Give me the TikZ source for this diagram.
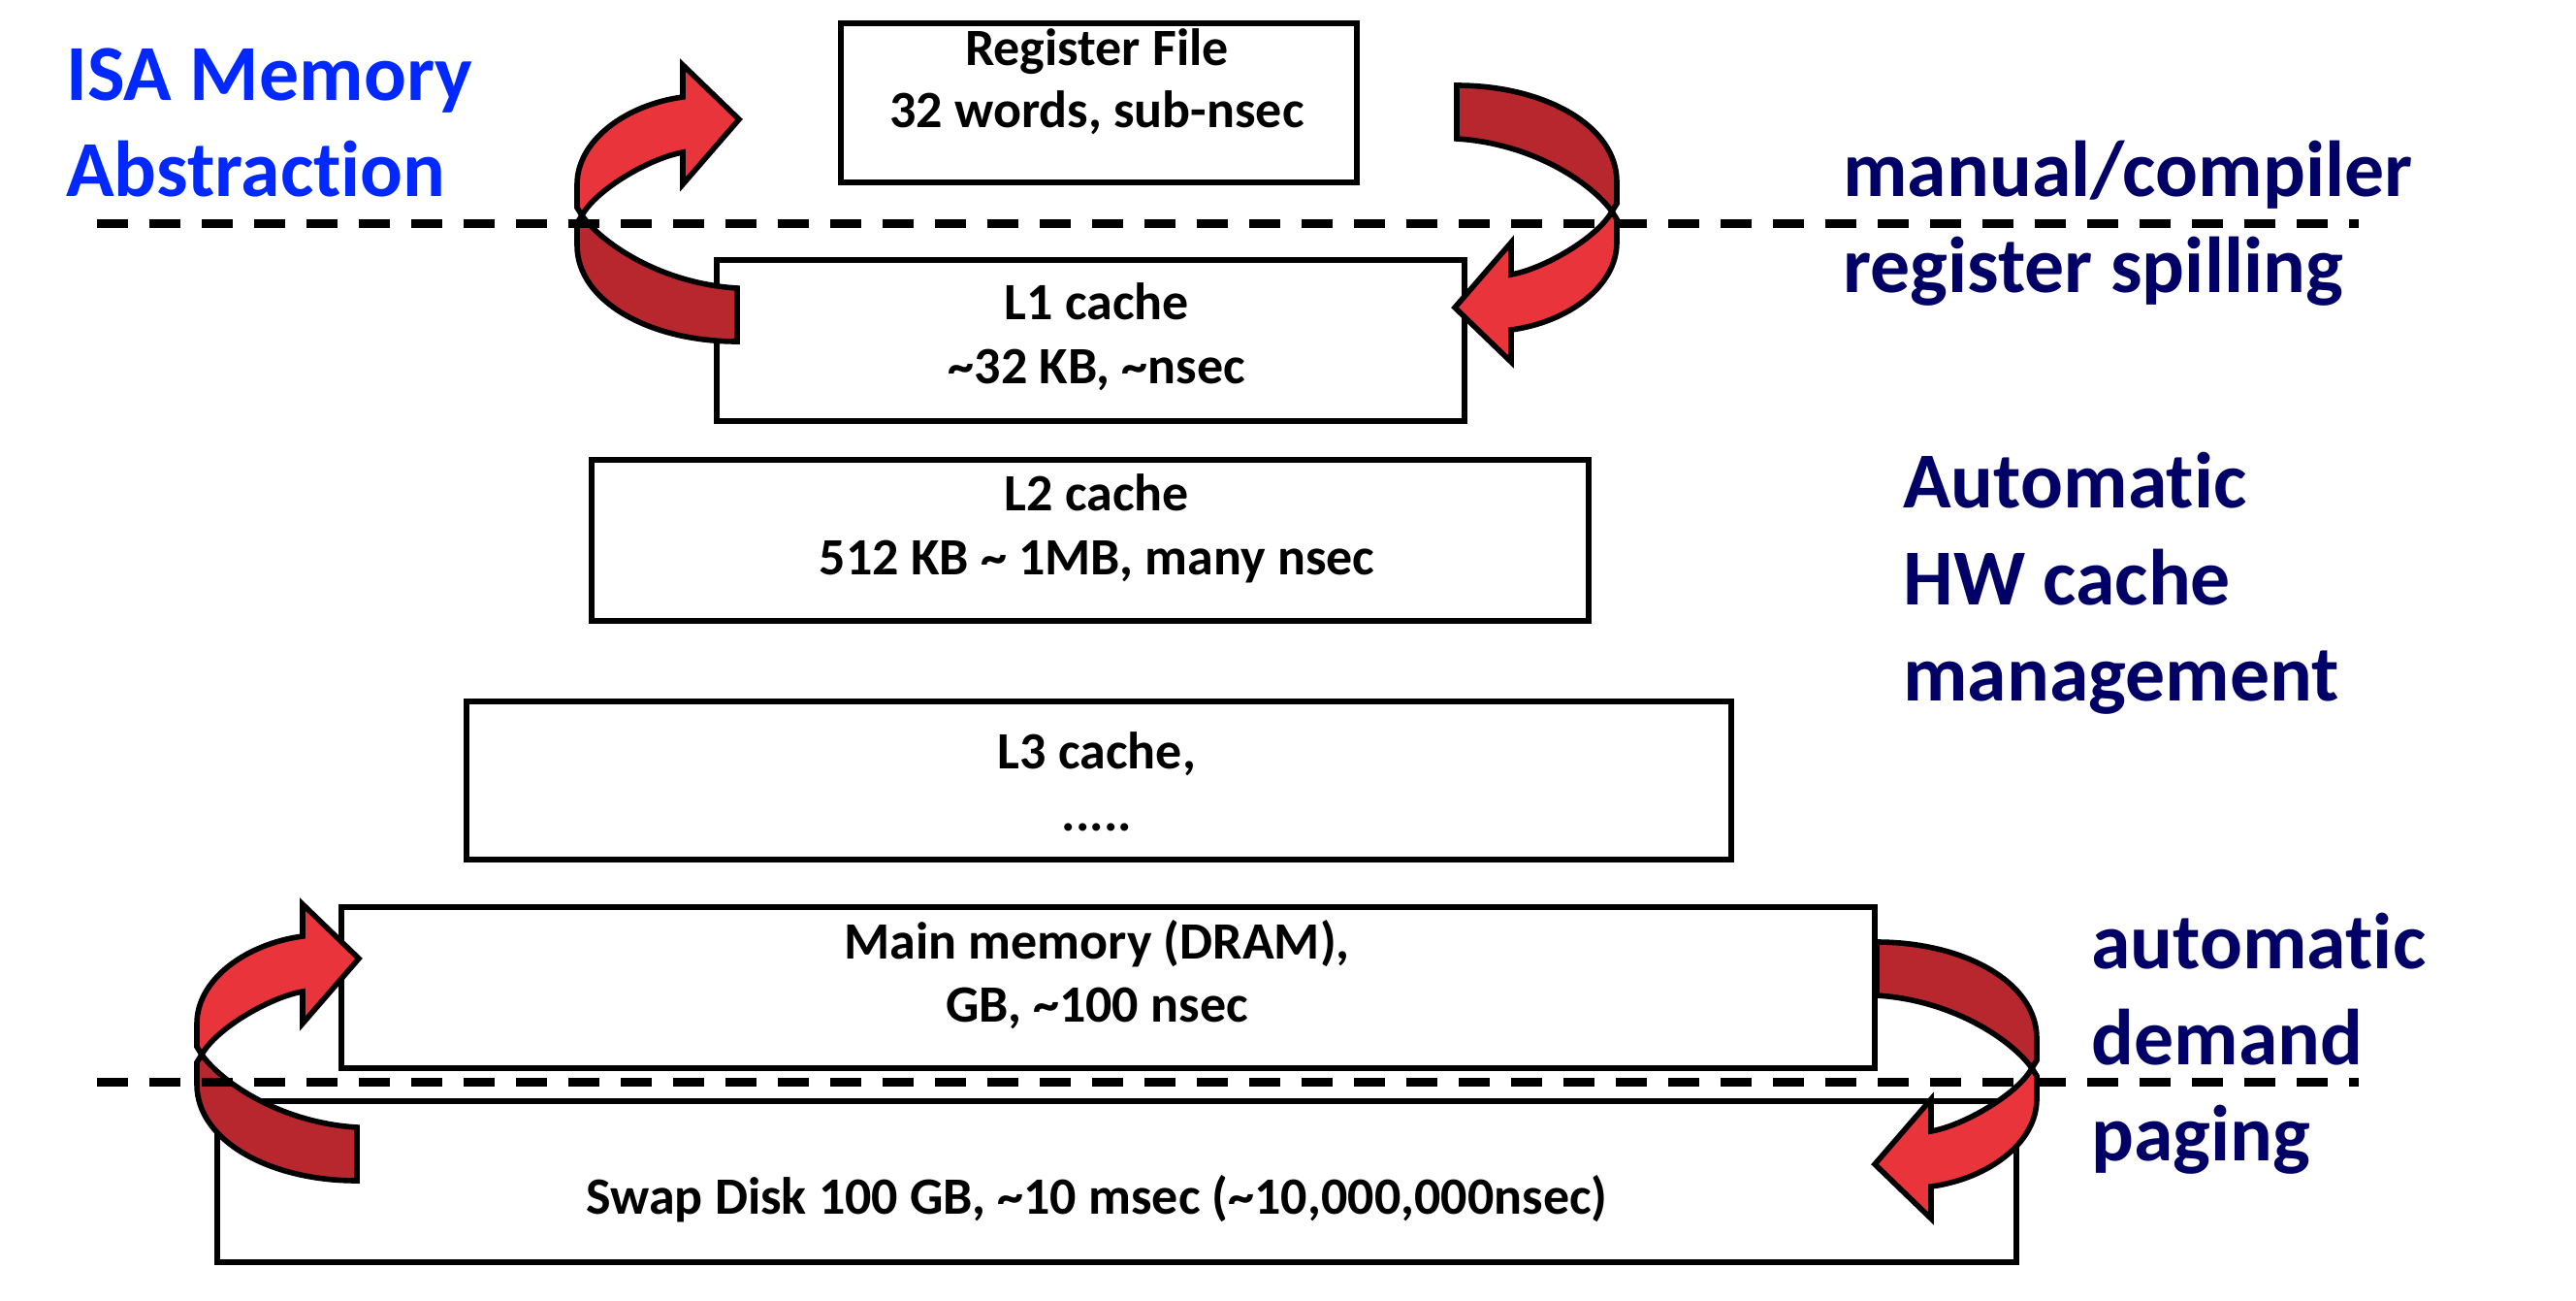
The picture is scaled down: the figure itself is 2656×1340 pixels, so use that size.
\documentclass[tikz,border=0pt]{standalone}
\usepackage{fontspec}
\setmainfont{Carlito}[Ligatures={NoCommon}]
\newcommand{\tld}{\char"7E\relax}
\definecolor{navy}{RGB}{0,0,102}
\definecolor{isablue}{RGB}{0,40,255}
\definecolor{lightred}{RGB}{232,52,58}
\definecolor{darkred}{RGB}{184,38,46}
\tikzset{
  membox/.style={draw=black, line width=3pt, fill=white, rectangle, inner sep=0pt},
  boxtext/.style={anchor=base, inner sep=0pt, font=\fontsize{27}{32.5}\selectfont\bfseries},
  headtext/.style={anchor=base west, inner sep=0pt, font=\fontsize{40.9}{49.5}\selectfont\bfseries},
  dashline/.style={line width=4.5pt, dash pattern=on 16pt off 11pt, line cap=butt},
  arrowline/.style={draw=black, line width=2.8pt, line join=miter},
  curvarrow/.pic={
    \filldraw[arrowline, fill=darkred] (-160,0) -- (-165,8) -- (-165,31)
      .. controls (-165,88) and (-91,130) .. (0,130) -- (0,75)
      .. controls (-80,70) and (-140,28) .. (-160,0) -- cycle;
    \filldraw[arrowline, fill=lightred] (-160,0) -- (-165,-8) -- (-165,-32)
      .. controls (-165,-77) and (-115,-114) .. (-56,-122) -- (-56,-155) -- (2,-99)
      -- (-56,-32) -- (-56,-65)
      .. controls (-90,-59) and (-145,-27) .. (-160,0) -- cycle;
  }
}
\begin{document}
\begin{tikzpicture}[x=0.5pt, y=-0.5pt]
\useasboundingbox (0,0) rectangle (2656,1340);
% boxes
\node[membox, minimum width=266pt, minimum height=82pt] (rf) at (1133,106) {};
\node[membox, minimum width=385.5pt, minimum height=83pt] (l1) at (1124.5,351) {};
\node[membox, minimum width=514pt, minimum height=83pt] (l2) at (1124,557) {};
\node[membox, minimum width=652pt, minimum height=81.5pt] (l3) at (1133,804.5) {};
\node[membox, minimum width=790.5pt, minimum height=83pt] (mm) at (1142.5,1018) {};
\node[membox, minimum width=927.5pt, minimum height=83pt] (sd) at (1151.5,1218) {};
% box texts
\node[boxtext] (rfa) at (1131,67) {Register File};
\node[boxtext] (rfb) at (1131,131) {32 words, sub-nsec};
\node[boxtext] (l1a) at (1131,329) {L1 cache};
\node[boxtext] (l1b) at (1131,395) {\tld 32 KB, \tld nsec};
\node[boxtext] (l2a) at (1131,526) {L2 cache};
\node[boxtext] (l2b) at (1131,592) {512 KB \tld{} 1MB, many nsec};
\node[boxtext] (l3a) at (1131,792) {L3 cache,};
\node[boxtext] (l3b) at (1131,856) {.....};
\node[boxtext] (mma) at (1131,988) {Main memory (DRAM),};
\node[boxtext] (mmb) at (1131,1053) {GB, \tld 100 nsec};
\node[boxtext] (sda) at (1131,1251) {Swap Disk 100 GB, \tld 10 msec (\tld 10,000,000nsec)};
% side labels
\node[headtext, text=isablue] (isa1) at (68,103) {ISA Memory};
\node[headtext, text=isablue] (isa2) at (68,202) {Abstraction};
\node[headtext, text=navy] (mc1) at (1900,202) {manual/compiler};
\node[headtext, text=navy] (mc2) at (1900,301) {register spilling};
\node[headtext, text=navy] (hw1) at (1962,523) {Automatic};
\node[headtext, text=navy] (hw2) at (1962,623) {HW cache};
\node[headtext, text=navy] (hw3) at (1962,722) {management};
\node[headtext, text=navy] (dp1) at (2156,998) {automatic};
\node[headtext, text=navy] (dp2) at (2156,1097) {demand};
\node[headtext, text=navy] (dp3) at (2156,1196) {paging};
% curved arrows
\pic (arTL) at (760,222) {curvarrow};
\pic[rotate=180] (arTR) at (1502,218) {curvarrow};
\pic (arBL) at (368,1087) {curvarrow};
\pic[rotate=180] (arBR) at (1935,1101) {curvarrow};
% dashed lines
\coordinate (d1a) at (100,230);
\coordinate (d1b) at (2432,230);
\coordinate (d2a) at (100,1115);
\coordinate (d2b) at (2432,1115);
\draw[dashline] (d1a) -- (d1b);
\draw[dashline] (d2a) -- (d2b);
\end{tikzpicture}
\end{document}
